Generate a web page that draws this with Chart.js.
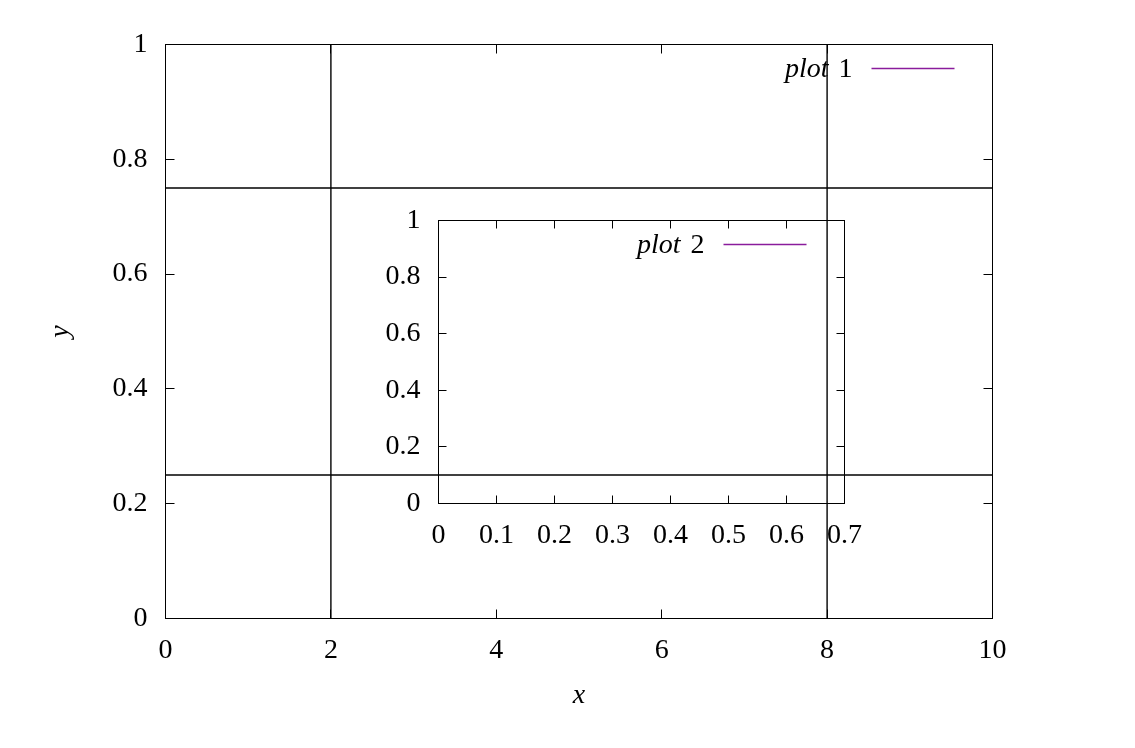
<!DOCTYPE html>
<html>
<head>
<meta charset="utf-8">
<script src="https://cdn.jsdelivr.net/npm/chart.js@4.4.1/dist/chart.umd.min.js"></script>
<style>
body { margin: 0; background: #fff; }
#wrap { position: relative; width: 1135px; height: 748px; }
#wrap canvas { position: absolute; left: 0; top: 0; }
#inset { pointer-events: none; }
</style>
</head>
<body>
<div id="wrap">
  <canvas id="main" width="1135" height="748"></canvas>
  <canvas id="inset" width="1135" height="748"></canvas>
</div>
<script>
// main plot
var mainXRange = [0, 10];
var mainYRange = [0, 1];
var mainXStep = 2;
var mainYStep = 0.2;
var vLines = [2, 8];        // x = const lines
var hLines = [0.25, 0.75];  // y = const lines
var plot1 = [];             // nothing falls inside the visible range

// inset plot
var insetXRange = [0, 0.7];
var insetYRange = [0, 1];
var insetXStep = 0.1;
var insetYStep = 0.2;
var plot2 = [];

var purple = '#8a1c9c';
var serif = "'Liberation Serif', 'DejaVu Serif', serif";

Chart.defaults.font.family = serif;
Chart.defaults.font.size = 28;
Chart.defaults.color = '#000';

function snap(p) { return Math.floor(p) + 0.5; }

// gnuplot-like frame: full border, inward mirrored ticks, legend, axis titles
var gnuFrame = {
    id: 'gnuFrame',
    afterDatasetsDraw: function(chart, args, opts) {
        var ctx = chart.ctx;
        var a = chart.chartArea;
        var xs = chart.scales.x, ys = chart.scales.y;
        ctx.save();
        ctx.strokeStyle = '#000';
        ctx.lineWidth = 1;
        ctx.strokeRect(a.left, a.top, a.right - a.left, a.bottom - a.top);
        ctx.beginPath();
        xs.ticks.forEach(function(t) {
            var px = snap(xs.getPixelForValue(t.value));
            ctx.moveTo(px, a.bottom); ctx.lineTo(px, a.bottom - opts.tick);
            ctx.moveTo(px, a.top); ctx.lineTo(px, a.top + opts.tick);
        });
        ys.ticks.forEach(function(t) {
            var py = snap(ys.getPixelForValue(t.value));
            ctx.moveTo(a.left, py); ctx.lineTo(a.left + opts.tick, py);
            ctx.moveTo(a.right, py); ctx.lineTo(a.right - opts.tick, py);
        });
        ctx.stroke();

        // legend (text right aligned, sample line after it)
        var row = 0;
        chart.data.datasets.forEach(function(ds) {
            if (!ds.inLegend) return;
            var y = a.top + 24 + row * 30;
            var parts = ds.label.split(' ');
            var num = parts.pop();
            var word = parts.join(' ');
            ctx.textBaseline = 'middle';
            ctx.textAlign = 'right';
            ctx.font = '28px ' + serif;
            var textRight = a.right - 140;
            ctx.fillStyle = '#000';
            ctx.fillText(num, textRight, y + 1);
            var numW = ctx.measureText(num).width;
            ctx.font = 'italic 28px ' + serif;
            ctx.fillText(word, textRight - numW - 10, y + 1);
            ctx.strokeStyle = ds.borderColor;
            ctx.lineWidth = 1.5;
            ctx.beginPath();
            ctx.moveTo(a.right - 121, snap(y));
            ctx.lineTo(a.right - 38, snap(y));
            ctx.stroke();
            row++;
        });

        // axis titles
        ctx.fillStyle = '#000';
        ctx.font = 'italic 28px ' + serif;
        ctx.textAlign = 'center';
        ctx.textBaseline = 'middle';
        if (opts.xTitle) {
            ctx.fillText(opts.xTitle, (a.left + a.right) / 2, a.bottom + 77);
        }
        if (opts.yTitle) {
            ctx.save();
            ctx.translate(a.left - 105, (a.top + a.bottom) / 2);
            ctx.rotate(-Math.PI / 2);
            ctx.fillText(opts.yTitle, 0, 0);
            ctx.restore();
        }
        ctx.restore();
    }
};

function lineSet(points) {
    return {
        data: points,
        borderColor: '#000',
        borderWidth: 1.4,
        pointRadius: 0,
        fill: false,
        tension: 0
    };
}

function fmt(value) { return String(Number(value.toFixed(3))); }

function makeAxes(xRange, yRange, xStep, yStep, box) {
    return {
        x: {
            type: 'linear',
            min: xRange[0], max: xRange[1],
            grid: { display: false, drawTicks: false },
            border: { display: false },
            ticks: { stepSize: xStep, padding: 15, maxRotation: 0, autoSkip: false, callback: fmt },
            afterFit: function(scale) { scale.height = 748 - box.bottom; }
        },
        y: {
            type: 'linear',
            min: yRange[0], max: yRange[1],
            grid: { display: false, drawTicks: false },
            border: { display: false },
            ticks: { stepSize: yStep, padding: 18, callback: fmt },
            afterFit: function(scale) { scale.width = box.left; }
        }
    };
}

// main chart
var mainBox = { left: 165.5, right: 992.5, top: 44.5, bottom: 618.5 };
var mainSets = [];
vLines.forEach(function(v) {
    mainSets.push(lineSet([{ x: v, y: mainYRange[0] }, { x: v, y: mainYRange[1] }]));
});
hLines.forEach(function(h) {
    mainSets.push(lineSet([{ x: mainXRange[0], y: h }, { x: mainXRange[1], y: h }]));
});
mainSets.push({
    label: 'plot 1', inLegend: true, data: plot1,
    borderColor: purple, borderWidth: 1, pointRadius: 0
});

new Chart(document.getElementById('main').getContext('2d'), {
    type: 'line',
    data: { datasets: mainSets },
    options: {
        responsive: false,
        animation: false,
        devicePixelRatio: 1,
        layout: { padding: { left: 0, top: mainBox.top, right: 1135 - mainBox.right, bottom: 0 } },
        scales: makeAxes(mainXRange, mainYRange, mainXStep, mainYStep, mainBox),
        plugins: {
            legend: { display: false },
            tooltip: { enabled: false },
            gnuFrame: { tick: 9, xTitle: 'x', yTitle: 'y' }
        }
    },
    plugins: [gnuFrame]
});

// inset chart (transparent, on top)
var insetBox = { left: 438.5, right: 844.5, top: 220.5, bottom: 503.5 };
new Chart(document.getElementById('inset').getContext('2d'), {
    type: 'line',
    data: {
        datasets: [{
            label: 'plot 2', inLegend: true, data: plot2,
            borderColor: purple, borderWidth: 1, pointRadius: 0
        }]
    },
    options: {
        responsive: false,
        animation: false,
        devicePixelRatio: 1,
        layout: { padding: { left: 0, top: insetBox.top, right: 1135 - insetBox.right, bottom: 0 } },
        scales: makeAxes(insetXRange, insetYRange, insetXStep, insetYStep, insetBox),
        plugins: {
            legend: { display: false },
            tooltip: { enabled: false },
            gnuFrame: { tick: 8 }
        }
    },
    plugins: [gnuFrame]
});
</script>
</body>
</html>
